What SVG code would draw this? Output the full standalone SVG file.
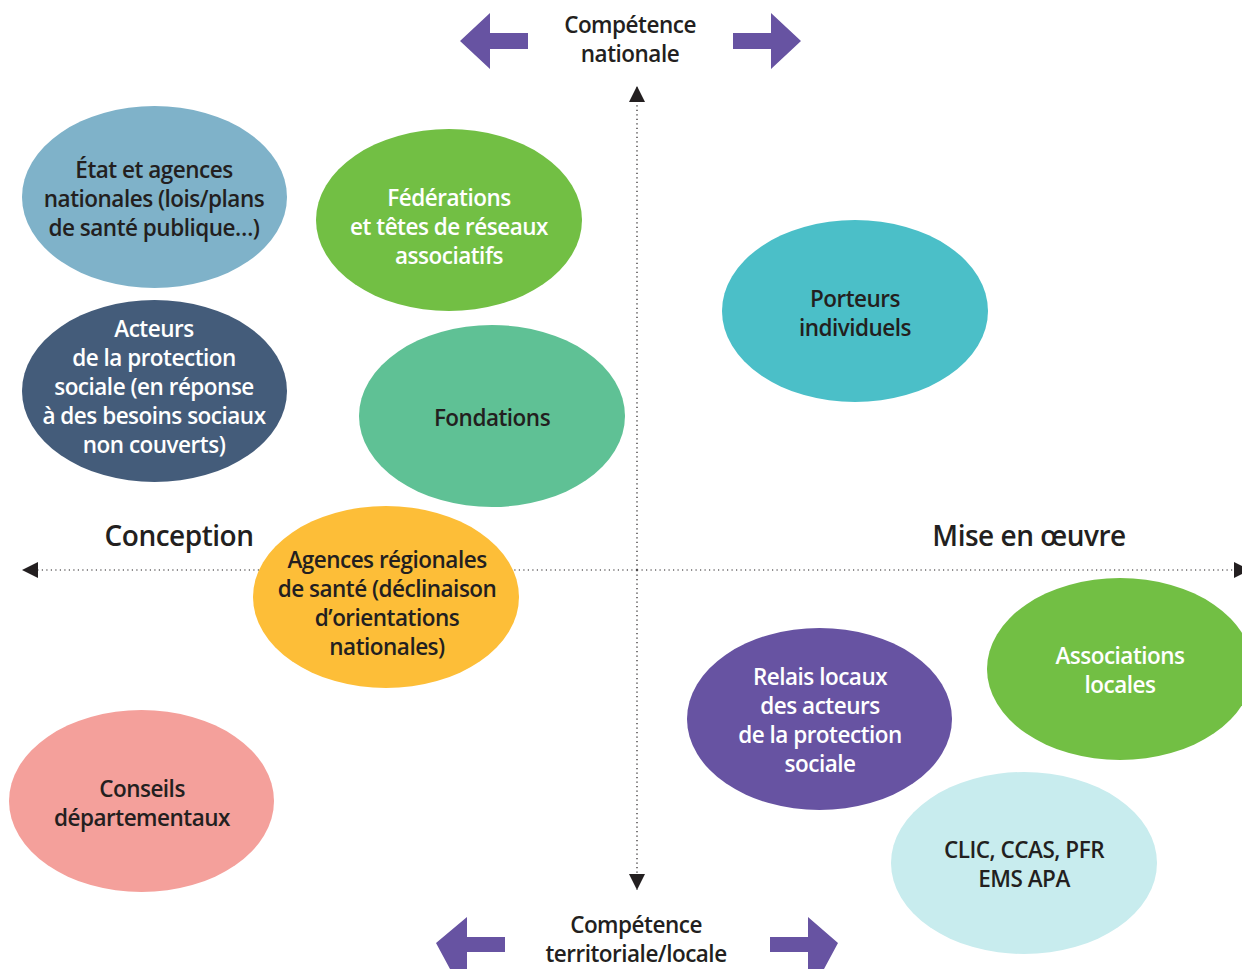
<svg xmlns="http://www.w3.org/2000/svg" width="1242" height="969" viewBox="0 0 1242 969">
<style>
text{font-family:"Open Sans","Liberation Sans",sans-serif;font-weight:600;font-size:22.5px;letter-spacing:-0.5px;text-anchor:middle;fill:#231f20}
.w{fill:#ffffff}
.big{font-size:28px}
.axis{stroke:#231f20;stroke-width:1.2;stroke-dasharray:1.2 3.3;fill:none}
.pa{fill:#6753a2}
</style>
<defs>
<marker id="ah" viewBox="0 0 10 10" refX="10" refY="5" markerWidth="16" markerHeight="16" markerUnits="userSpaceOnUse" orient="auto">
<path d="M0,0 L10,5 L0,10 Z" fill="#231f20"/>
</marker>
</defs>
<rect width="1242" height="969" fill="#ffffff"/>
<g id="connectors">
<line class="axis" x1="637" y1="570" x2="637" y2="86" marker-end="url(#ah)"/>
<line class="axis" x1="637" y1="570" x2="637" y2="890" marker-end="url(#ah)"/>
<line class="axis" x1="637" y1="570" x2="22" y2="570" marker-end="url(#ah)"/>
<line class="axis" x1="637" y1="570" x2="1250" y2="570" marker-end="url(#ah)"/>
</g>
<g id="axis-labels">
<path class="pa" d="M460,41 L490,13 L490,33 L528,33 L528,49 L490,49 L490,69 Z"/>
<path class="pa" d="M801,41 L771,13 L771,33 L733,33 L733,49 L771,49 L771,69 Z"/>
<text x="630" y="33">Compétence</text>
<text x="630" y="62">nationale</text>
<path class="pa" d="M436,943 L467,917 L467,937 L505,937 L505,952 L467,952 L467,969 L450,969 Z"/>
<path class="pa" d="M838,943 L808,917 L808,937 L770,937 L770,952 L808,952 L808,969 L824,969 Z"/>
<text x="636" y="933">Compétence</text>
<text x="636" y="962">territoriale/locale</text>
<text class="big" x="179" y="546">Conception</text>
<text class="big" x="1029" y="546">Mise en œuvre</text>
</g>
<g id="etat">
<ellipse cx="154.5" cy="197" rx="132.5" ry="91" fill="#7fb2c9"/>
<text x="154" y="178">État et agences</text>
<text x="154" y="207">nationales (lois/plans</text>
<text x="154" y="236">de santé publique…)</text>
</g>
<g id="federations">
<ellipse cx="449" cy="220" rx="133" ry="91" fill="#72bf44"/>
<text class="w" x="449" y="206">Fédérations</text>
<text class="w" x="449" y="235">et têtes de réseaux</text>
<text class="w" x="449" y="264">associatifs</text>
</g>
<g id="porteurs">
<ellipse cx="855" cy="311" rx="133" ry="91" fill="#4bbfc8"/>
<text x="855" y="307">Porteurs</text>
<text x="855" y="336">individuels</text>
</g>
<g id="acteurs">
<ellipse cx="154.5" cy="391" rx="132.5" ry="91" fill="#445c7a"/>
<text class="w" x="154" y="337">Acteurs</text>
<text class="w" x="154" y="366">de la protection</text>
<text class="w" x="154" y="395">sociale (en réponse</text>
<text class="w" x="154" y="424">à des besoins sociaux</text>
<text class="w" x="154" y="453">non couverts)</text>
</g>
<g id="fondations">
<ellipse cx="492" cy="416" rx="133" ry="91" fill="#5fc195"/>
<text x="492" y="426">Fondations</text>
</g>
<g id="agences">
<ellipse cx="386" cy="597" rx="133" ry="91" fill="#fdbe38"/>
<text x="387" y="568">Agences régionales</text>
<text x="387" y="597">de santé (déclinaison</text>
<text x="387" y="626">d’orientations</text>
<text x="387" y="655">nationales)</text>
</g>
<g id="conseils">
<ellipse cx="141.5" cy="801" rx="132.5" ry="91" fill="#f4a09b"/>
<text x="142" y="797">Conseils</text>
<text x="142" y="826">départementaux</text>
</g>
<g id="relais">
<ellipse cx="819.5" cy="719" rx="132.5" ry="91" fill="#6753a2"/>
<text class="w" x="820" y="685">Relais locaux</text>
<text class="w" x="820" y="714">des acteurs</text>
<text class="w" x="820" y="743">de la protection</text>
<text class="w" x="820" y="772">sociale</text>
</g>
<g id="associations">
<ellipse cx="1120" cy="669" rx="133" ry="91" fill="#72bf44"/>
<text class="w" x="1120" y="664">Associations</text>
<text class="w" x="1120" y="693">locales</text>
</g>
<g id="clic">
<ellipse cx="1024" cy="863" rx="133" ry="91" fill="#c8ecee"/>
<text x="1024" y="858">CLIC, CCAS, PFR</text>
<text x="1024" y="887">EMS APA</text>
</g>
</svg>
